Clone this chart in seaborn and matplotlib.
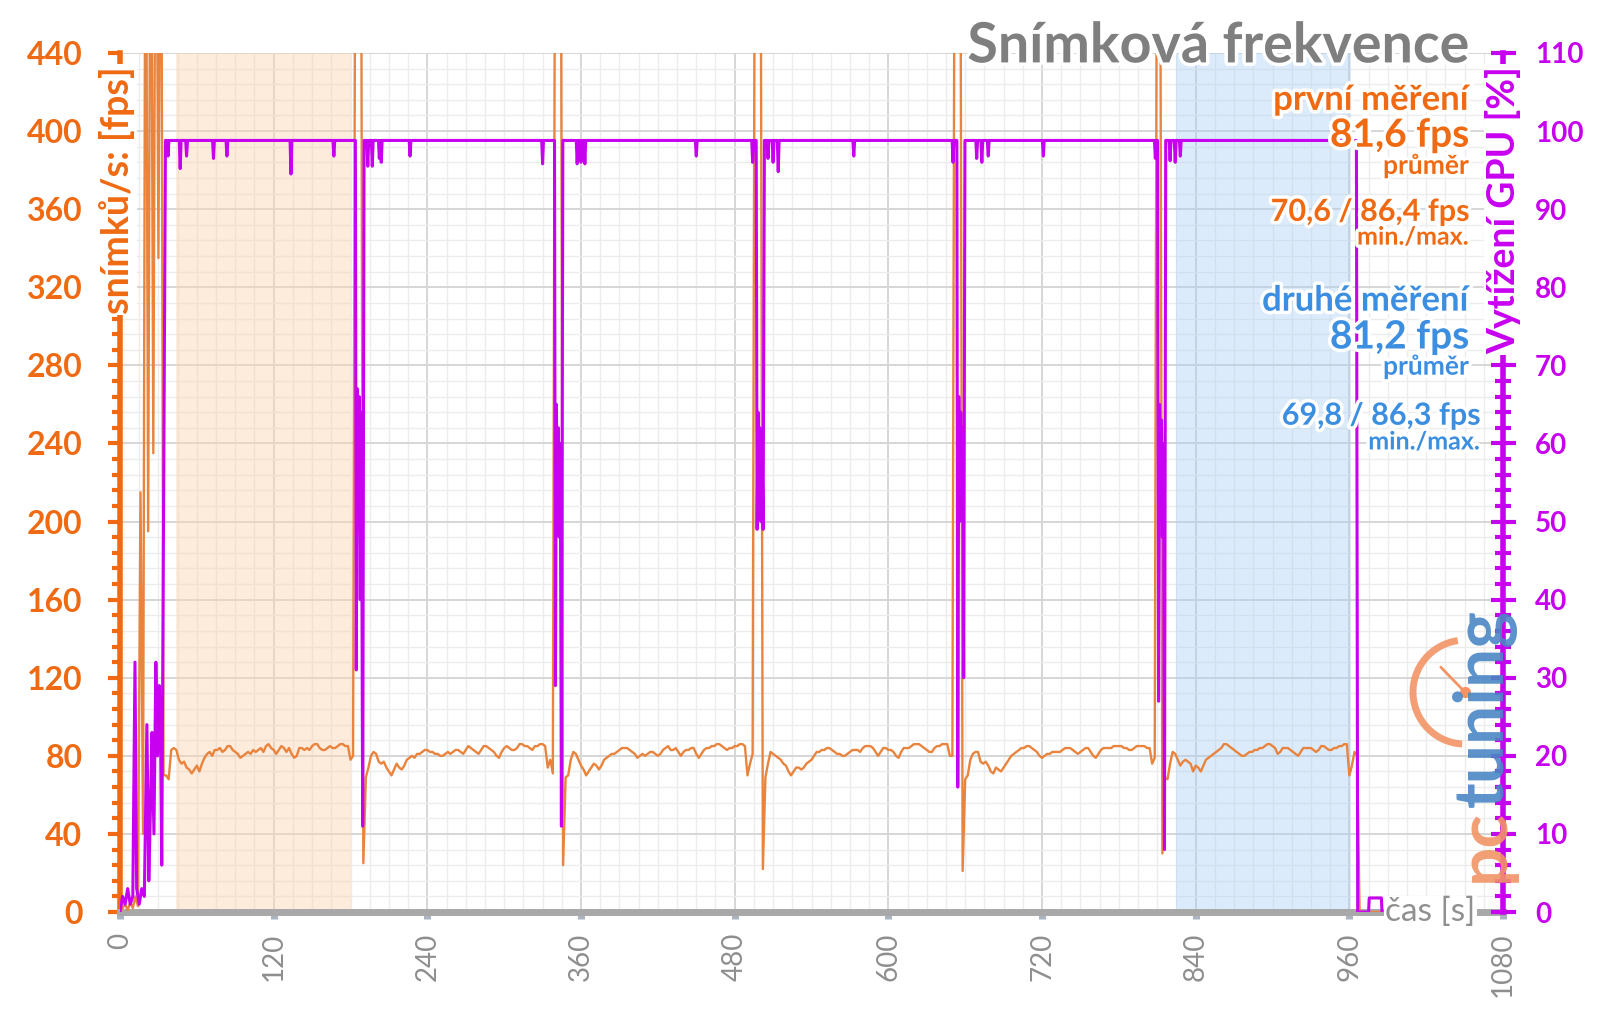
import numpy as np
import pandas as pd
import seaborn as sns
import matplotlib.pyplot as plt
import matplotlib.patheffects as pe
from matplotlib.ticker import MultipleLocator
from matplotlib.patches import Arc

sns.set_theme(style="white")
plt.rcParams['font.family'] = ['Lato', 'DejaVu Sans']

# --- data: snímková frekvence (krok 2 s), start každého úseku ---
fps_seg_start = [0, 36, 192, 348, 504, 660, 816]
fps_start = [0, 2, 4, 1, 5, 2, 8, 3, 215, 40, 600, 195, 600, 235, 600, 335, 600, 70]
fps_run1 = [70, 68, 83, 84, 83, 78, 76, 77, 74, 73,
            71, 73, 75, 72, 76, 79, 81, 82, 80, 83,
            83, 84, 82, 83, 85, 85, 83, 82, 81, 79,
            80, 81, 82, 81, 83, 82, 83, 84, 82, 85,
            86, 84, 83, 81, 83, 85, 84, 82, 84, 81,
            79, 80, 84, 84, 83, 84, 83, 85, 86, 86,
            84, 83, 83, 84, 85, 84, 84, 85, 86, 86,
            85, 85, 78, 80, 600, 600, 600, 25]
fps_run2 = [69, 74, 80, 82, 81, 77, 76, 77, 74, 72,
            70, 73, 76, 74, 73, 75, 78, 79, 80, 79,
            81, 81, 82, 83, 83, 82, 82, 81, 81, 80,
            80, 81, 82, 81, 82, 83, 83, 82, 81, 83,
            85, 84, 83, 82, 81, 83, 85, 85, 84, 83,
            82, 80, 79, 82, 84, 85, 84, 83, 83, 84,
            86, 86, 85, 85, 84, 83, 85, 85, 86, 86,
            85, 74, 78, 71, 600, 600, 600, 24]
fps_run3 = [69, 70, 78, 82, 81, 78, 75, 73, 70, 72,
            74, 76, 75, 73, 75, 78, 79, 80, 81, 81,
            82, 83, 84, 84, 84, 83, 82, 81, 79, 80,
            81, 80, 81, 82, 82, 81, 80, 81, 83, 84,
            85, 83, 83, 84, 82, 80, 82, 83, 83, 84,
            84, 81, 79, 81, 83, 84, 84, 85, 85, 86,
            86, 85, 84, 83, 84, 84, 85, 85, 86, 86,
            85, 70, 76, 81, 600, 600, 600, 22]
fps_run4 = [69, 76, 82, 81, 80, 79, 78, 76, 75, 72,
            70, 72, 74, 74, 73, 74, 76, 77, 78, 80,
            82, 82, 83, 83, 84, 84, 83, 82, 81, 81,
            80, 80, 81, 82, 83, 83, 83, 82, 84, 85,
            85, 85, 84, 82, 80, 82, 84, 84, 83, 83,
            82, 80, 79, 82, 84, 84, 84, 85, 86, 86,
            86, 85, 84, 83, 82, 82, 84, 85, 85, 86,
            86, 86, 80, 80, 600, 600, 600, 21]
fps_run5 = [68, 70, 78, 81, 82, 82, 77, 76, 77, 75,
            72, 71, 74, 73, 72, 74, 76, 78, 80, 81,
            82, 83, 84, 84, 85, 85, 84, 83, 82, 80,
            79, 80, 81, 81, 82, 82, 82, 82, 83, 84,
            84, 84, 83, 82, 81, 82, 83, 84, 84, 82,
            80, 79, 81, 83, 84, 84, 84, 84, 85, 85,
            85, 85, 84, 84, 83, 83, 84, 85, 85, 85,
            85, 84, 84, 76, 79, 600, 600, 30]
fps_run6 = [69, 68, 76, 82, 81, 78, 75, 77, 78, 77,
            76, 72, 75, 74, 72, 75, 78, 79, 80, 81,
            82, 83, 84, 86, 86, 85, 84, 83, 82, 81,
            80, 80, 81, 82, 82, 83, 83, 84, 84, 85,
            86, 86, 85, 84, 81, 82, 84, 84, 84, 83,
            82, 81, 80, 82, 84, 84, 84, 84, 83, 82,
            83, 85, 85, 84, 83, 83, 84, 84, 85, 85,
            86, 86, 70, 75, 82, 80, 0, 0, 0, 0,
            0, 0, 0, 0, 0]
fps_runs = [fps_start, fps_run1, fps_run2, fps_run3, fps_run4, fps_run5, fps_run6]

# --- data: vytížení GPU [%] ---
gpu_base = 98.8
gpu_start_t = [0, 2, 4, 6, 8, 10, 11.7, 13, 15, 17, 19, 21, 22.5, 24, 25, 26.5, 28, 29.3, 30.6, 31.6, 32.6, 35.5]
gpu_start_v = [0, 2, 1, 3, 1, 2, 32, 3, 1, 3, 2, 24, 4, 15, 23, 10, 32, 20, 29, 24, 6, 98.8]
gpu_dip_t = [37.5, 47, 52, 73, 83.5, 133.5, 167,
             193.5, 197, 202.5, 204, 226.5, 330,
             357, 360, 363, 450, 494,
             506, 510, 514, 573, 650.5,
             669, 673, 678, 721, 808.5,
             820, 824, 828]
gpu_dip_v = [96.8, 95.2, 96.8, 96.5, 96.8, 94.5, 96.8,
             95.5, 95.5, 96.5, 96.0, 96.8, 95.8,
             95.8, 96.0, 95.8, 96.8, 96.0,
             96.5, 96.0, 94.8, 96.8, 96.0,
             96.5, 96.0, 96.8, 96.8, 96.5,
             96.2, 96.0, 96.8]
gpu_load_t = [[183.8, 184.5, 185.3, 186.0, 186.8, 187.6, 188.5, 189.5, 190.6],
              [339.3, 340.0, 340.8, 341.5, 342.3, 343.0, 343.8, 344.7, 345.8],
              [496.8, 497.5, 498.3, 499.0, 499.8, 500.5, 501.3, 502.2, 503.2],
              [653.5, 654.2, 655.0, 655.7, 656.5, 657.2, 658.0, 658.8, 659.8],
              [810.2, 811.0, 811.8, 812.5, 813.3, 814.0, 814.8, 815.6, 816.6]]
gpu_load_v = [[98.8, 31, 67, 53, 66, 40, 64, 11, 98.8],
              [98.8, 29, 65, 50, 62, 48, 60, 11, 98.8],
              [98.8, 49, 64, 52, 62, 50, 60, 49, 98.8],
              [98.8, 16, 66, 50, 64, 52, 62, 30, 98.8],
              [98.8, 27, 65, 50, 63, 48, 60, 8, 98.8]]
gpu_end_t = [965.5, 966.5, 975.0, 975.5, 985.0, 985.5]
gpu_end_v = [98.8, 0, 0, 1.8, 1.8, 0]

x_ticks = [0, 120, 240, 360, 480, 600, 720, 840, 960, 1080]
band_first = (44, 180)
band_second = (825, 961)

# --- build frames ---
rows = []
for t0, vals in zip(fps_seg_start, fps_runs):
    for i, v in enumerate(vals):
        rows.append((t0 + 2 * i, v))
fps_df = pd.DataFrame(rows, columns=['cas', 'fps']).sort_values('cas')

pts = list(zip(gpu_start_t, gpu_start_v))
for t, d in zip(gpu_dip_t, gpu_dip_v):
    pts += [(t - 0.7, gpu_base), (t, d), (t + 0.7, gpu_base)]
for ts, vs in zip(gpu_load_t, gpu_load_v):
    pts += list(zip(ts, vs))
pts += list(zip(gpu_end_t, gpu_end_v))
gpu_df = pd.DataFrame(pts, columns=['cas', 'gpu']).sort_values('cas')

ORANGE = '#EF6A12'
LINE_OR = '#E8843E'
MAGENTA = '#C800F0'
BLUE = '#3C8EE0'
GRAY = '#858585'

fig = plt.figure(figsize=(16, 10.09), dpi=100)
ax = fig.add_axes([0.075, 0.0961, 0.8644, 0.8514])

ax.axvspan(*band_first, color='#FBD3B0', alpha=0.45, lw=0, zorder=1)
ax.axvspan(*band_second, color='#A9CFF5', alpha=0.4, lw=0, zorder=1)

sns.lineplot(data=fps_df, x='cas', y='fps', ax=ax, color=LINE_OR, lw=1.7,
             estimator=None, sort=False, zorder=3)

ax.set_xlim(0, 1080)
ax.set_ylim(0, 440)
ax.set_xticks(x_ticks)
ax.xaxis.set_minor_locator(MultipleLocator(15))
ax.yaxis.set_major_locator(MultipleLocator(40))
ax.yaxis.set_minor_locator(MultipleLocator(8))
ax.set_axisbelow(True)
ax.grid(which='major', color='#d6d6d6', lw=1.4)
ax.grid(which='minor', color='#ececec', lw=1.0)
ax.set_xlabel('')
ax.set_ylabel('')

for s in ['top', 'right']:
    ax.spines[s].set_visible(False)
ax.spines['left'].set_color(ORANGE)
ax.spines['left'].set_linewidth(4)
ax.spines['bottom'].set_color('#a8a8a8')
ax.spines['bottom'].set_linewidth(5)

ax.tick_params(axis='y', which='major', direction='out', length=9, width=3,
               color=ORANGE, labelcolor=ORANGE, labelsize=23, pad=18, left=True)
ax.tick_params(axis='y', which='minor', direction='out', length=6, width=3,
               color=ORANGE, left=True)
ax.tick_params(axis='x', which='major', direction='out', length=5, width=5,
               color='#aab4c0', labelcolor='#8e8e8e', labelsize=20, pad=10,
               labelrotation=90, bottom=True)
ax.tick_params(axis='x', which='minor', length=0)
for lab in ax.get_yticklabels():
    lab.set_fontweight('bold')

ax2 = ax.twinx()
sns.lineplot(data=gpu_df, x='cas', y='gpu', ax=ax2, color=MAGENTA, lw=2.2,
             estimator=None, sort=False)
ax2.set_ylim(0, 110)
ax2.yaxis.set_major_locator(MultipleLocator(10))
ax2.yaxis.set_minor_locator(MultipleLocator(2))
ax2.set_ylabel('')
ax2.set_xlabel('')
ax2.grid(False)
for s in ['top', 'left', 'bottom']:
    ax2.spines[s].set_visible(False)
ax2.spines['right'].set_color(MAGENTA)
ax2.spines['right'].set_linewidth(4)
ax2.tick_params(axis='y', which='major', direction='inout', length=18, width=3,
                color=MAGENTA, labelcolor=MAGENTA, labelsize=20, pad=14, right=True)
ax2.tick_params(axis='y', which='minor', direction='inout', length=12, width=3,
                color=MAGENTA, right=True)
for lab in ax2.get_yticklabels():
    lab.set_fontweight('bold')

# axis titles with white boxes over the spines
ax.text(-0.002, 0.985, 'snímků/s: [fps]', rotation=90, ha='center', va='top',
        transform=ax.transAxes, color=ORANGE, fontsize=27, fontweight='bold',
        zorder=10, bbox=dict(facecolor='white', edgecolor='none', pad=1))
ax2.text(1.0, 0.985, 'Vytížení GPU [%]', rotation=90, ha='center', va='top',
         transform=ax2.transAxes, color=MAGENTA, fontsize=27, fontweight='bold',
         zorder=10, bbox=dict(facecolor='white', edgecolor='none', pad=1))
ax2.text(0.98, 0.0, 'čas [s]', ha='right', va='center', transform=ax2.transAxes,
         color='#909090', fontsize=24, zorder=10,
         bbox=dict(facecolor='white', edgecolor='none', pad=1))

# logo
arc = Arc((0.9725, 0.256), 0.0752, 0.121, theta1=95, theta2=268, lw=5,
          color='#F29466', transform=ax2.transAxes, clip_on=False, alpha=0.9, zorder=4)
ax2.add_patch(arc)
ax2.plot([0.9725, 0.955], [0.256, 0.285], color='#F29466', lw=2,
         transform=ax2.transAxes, clip_on=False, zorder=4)
ax2.plot([0.9725], [0.256], 'o', color='#F29466', ms=7, transform=ax2.transAxes,
         clip_on=False, zorder=4)
ax2.text(0.9865, 0.035, 'pc', rotation=90, ha='center', va='bottom',
         transform=ax2.transAxes, color='#F29466', fontsize=50, fontweight='bold',
         alpha=0.9, zorder=5)
ax2.text(0.9865, 0.122, 'tuning', rotation=90, ha='center', va='bottom',
         transform=ax2.transAxes, color='#4A86C5', fontsize=50, fontweight='bold',
         alpha=0.9, zorder=5)

# title and notes
glow = [pe.withStroke(linewidth=5, foreground='white')]
fig.text(0.918, 0.954, 'Snímková frekvence', ha='right', va='center',
         color='#7f7f7f', fontsize=40, fontweight='bold', path_effects=glow)
notes = [
    ('první měření', 0.901, 25, ORANGE, 0.918),
    ('81,6 fps', 0.866, 28, ORANGE, 0.918),
    ('průměr', 0.836, 19, ORANGE, 0.918),
    ('70,6 / 86,4 fps', 0.790, 22, ORANGE, 0.918),
    ('min./max.', 0.765, 18, ORANGE, 0.918),
    ('druhé měření', 0.702, 25, BLUE, 0.918),
    ('81,2 fps', 0.666, 28, BLUE, 0.918),
    ('průměr', 0.637, 19, BLUE, 0.918),
    ('69,8 / 86,3 fps', 0.588, 22, BLUE, 0.925),
    ('min./max.', 0.562, 18, BLUE, 0.925),
]
for txt, y, size, col, x in notes:
    fig.text(x, y, txt, ha='right', va='center', color=col, fontsize=size,
             fontweight='bold', path_effects=glow, zorder=20)

fig.savefig('out.png', dpi=100)
